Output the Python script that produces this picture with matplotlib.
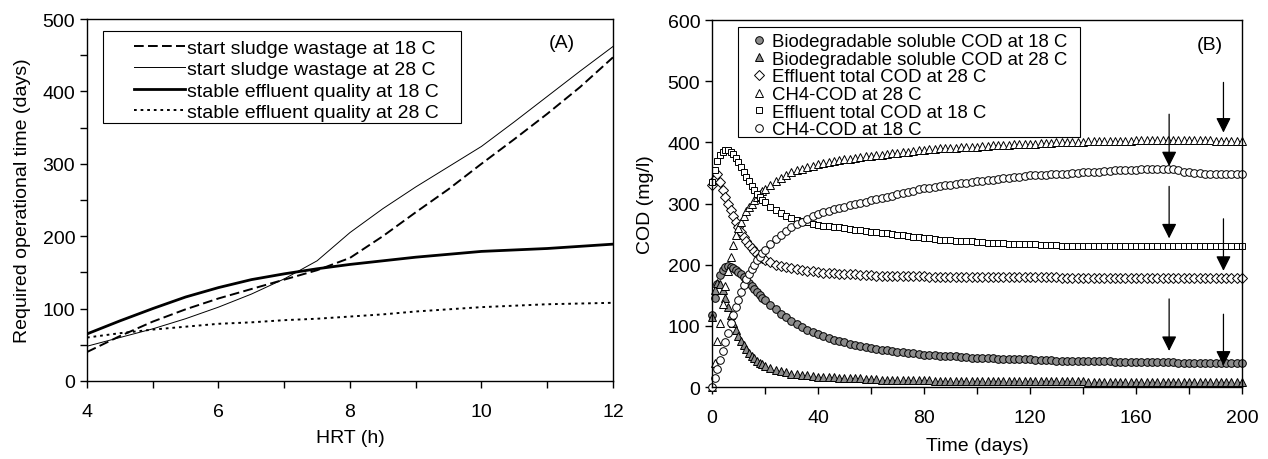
import matplotlib
matplotlib.use("Agg")
import matplotlib.pyplot as plt
from matplotlib.patches import Rectangle

plt.rcParams['font.family'] = ['Liberation Sans', 'DejaVu Sans']

# ---- panel A data ----
hrt = [4, 4.5, 5, 5.5, 6, 6.5, 7, 7.5, 8, 8.5, 9, 9.5, 10, 10.5, 11, 11.5, 12]
sludge_18 = [40, 62, 82, 99, 114, 127, 140, 153, 170, 200, 233, 265, 300, 334, 369, 406, 447]
sludge_28 = [48, 60, 72, 86, 102, 120, 141, 166, 205, 238, 268, 296, 324, 358, 393, 428, 462]
stable_18 = [65, 83, 100, 116, 129, 140, 148, 155, 161, 166, 171, 175, 179, 181, 183, 186, 189]
stable_28 = [60, 66, 71, 75, 79, 81, 84, 86, 89, 92, 96, 99, 102, 104, 106, 107, 108]

# ---- panel B data ----
days = list(range(0, 21)) + list(range(22, 201, 2))
bscod_18 = [118, 145, 168, 183, 192, 197, 198, 197, 195, 192, 188, 184, 180, 175, 170, 165, 160, 155, 150, 146, 142,
            134, 127, 120, 114, 108, 103, 98, 94, 90, 86,
            83, 80, 77, 75, 73, 71, 69, 67, 65, 64,
            62, 61, 60, 59, 58, 57, 56, 55, 54, 53,
            52, 52, 51, 51, 50, 50, 49, 49, 48, 48,
            47, 47, 47, 46, 46, 46, 45, 45, 45, 45,
            44, 44, 44, 44, 43, 43, 43, 43, 43, 42,
            42, 42, 42, 42, 42, 41, 41, 41, 41, 41,
            41, 41, 41, 41, 41, 41, 41, 40, 40, 40,
            40, 40, 40, 40, 40, 40, 40, 40, 40, 40]
bscod_28 = [115, 158, 170, 168, 158, 145, 130, 117, 104, 93, 84, 76, 69, 62, 56, 51, 47, 43, 40, 37, 35,
            31, 28, 26, 24, 22, 21, 20, 19, 18, 17,
            17, 16, 16, 15, 15, 14, 14, 14, 13, 13,
            13, 12, 12, 12, 12, 11, 11, 11, 11, 11,
            11, 10, 10, 10, 10, 10, 10, 10, 10, 10,
            10, 10, 10, 10, 10, 10, 10, 10, 10, 10,
            10, 10, 10, 10, 10, 10, 10, 10, 10, 10,
            9, 9, 9, 9, 9, 9, 9, 9, 9, 9,
            9, 9, 9, 9, 9, 9, 9, 9, 9, 9,
            8, 8, 8, 8, 8, 8, 8, 8, 8, 8]
eff_28 = [330, 340, 348, 335, 322, 310, 300, 290, 280, 270, 261, 253, 245, 238, 232, 227, 222, 218, 214, 211, 208,
          204, 200, 198, 196, 194, 193, 192, 190, 189, 188,
          187, 186, 186, 185, 185, 184, 184, 183, 183, 183,
          182, 182, 182, 182, 181, 181, 181, 181, 181, 181,
          180, 180, 180, 180, 180, 180, 180, 180, 180, 180,
          180, 180, 180, 180, 180, 180, 180, 180, 180, 180,
          180, 180, 180, 180, 180, 179, 179, 179, 179, 179,
          179, 179, 179, 179, 179, 179, 179, 179, 179, 179,
          179, 179, 179, 179, 179, 179, 179, 179, 179, 179,
          179, 179, 179, 179, 179, 179, 179, 179, 179, 179]
ch4_28 = [0, 40, 75, 105, 135, 165, 190, 212, 232, 248, 260, 270, 279, 287, 294, 300, 306, 311, 316, 320, 324,
          331, 337, 342, 347, 351, 354, 357, 360, 362, 364,
          366, 368, 369, 371, 372, 373, 374, 376, 377, 378,
          379, 380, 381, 382, 383, 384, 385, 386, 387, 388,
          389, 389, 390, 390, 391, 391, 392, 392, 393, 393,
          394, 394, 395, 395, 396, 396, 397, 397, 398, 398,
          398, 399, 399, 399, 400, 400, 400, 401, 401, 401,
          402, 402, 402, 402, 403, 403, 403, 403, 403, 404,
          404, 404, 404, 404, 404, 404, 404, 404, 404, 404,
          404, 404, 404, 404, 403, 403, 403, 403, 403, 403]
eff_18 = [335, 355, 370, 380, 385, 387, 387, 385, 381, 375, 368, 360, 352, 344, 336, 329, 322, 316, 311, 306, 302,
          295, 289, 284, 280, 276, 273, 271, 269, 267, 265,
          264, 263, 262, 261, 260, 258, 257, 256, 255, 254,
          253, 252, 251, 250, 249, 248, 247, 246, 245, 244,
          243, 242, 241, 241, 240, 239, 239, 238, 238, 237,
          237, 236, 236, 235, 235, 234, 234, 234, 233, 233,
          233, 232, 232, 232, 232, 231, 231, 231, 231, 231,
          231, 231, 231, 231, 231, 231, 231, 231, 231, 231,
          230, 230, 230, 230, 230, 230, 230, 230, 230, 230,
          230, 230, 230, 230, 230, 230, 230, 230, 230, 230]
ch4_18 = [0, 14, 29, 44, 59, 74, 89, 104, 118, 131, 143, 155, 166, 176, 185, 193, 200, 207, 213, 219, 224,
          233, 242, 249, 255, 261, 266, 270, 274, 279, 283,
          286, 288, 291, 293, 295, 297, 299, 301, 303, 305,
          307, 309, 311, 313, 315, 317, 319, 321, 323, 325,
          326, 327, 328, 330, 331, 332, 333, 334, 335, 336,
          337, 338, 339, 340, 341, 342, 343, 344, 345, 346,
          346, 347, 347, 348, 348, 349, 349, 350, 350, 351,
          351, 352, 352, 353, 353, 354, 354, 355, 355, 355,
          356, 356, 356, 357, 357, 357, 356, 354, 352, 351,
          350, 350, 349, 349, 349, 348, 348, 348, 348, 348]

# arrows marking the change points (x, start value, tip value)
arrow_x = [193, 172.5, 172.5, 193, 172.5, 193]
arrow_top = [498, 446, 328, 275, 144, 119]
arrow_tip = [416, 361, 243, 190, 59, 35]

FS = 14

fig = plt.figure(figsize=(12.68, 4.6), dpi=100)
ax1 = fig.add_axes([0.0686, 0.1696, 0.4148, 0.7869])
ax2 = fig.add_axes([0.5615, 0.1565, 0.4180, 0.7978])

# ---------------- panel A ----------------
ax1.plot(hrt, sludge_18, color='black', lw=1.4, dashes=(5, 2.2), label='start sludge wastage at 18 C')
ax1.plot(hrt, sludge_28, color='black', lw=0.7, label='start sludge wastage at 28 C')
ax1.plot(hrt, stable_18, color='black', lw=2.0, label='stable effluent quality at 18 C')
ax1.plot(hrt, stable_28, color='black', lw=1.4, dashes=(1.4, 2.0), label='stable effluent quality at 28 C')

ax1.set_xlim(4, 12)
ax1.set_ylim(0, 500)
ax1.set_xticks([4, 6, 8, 10, 12])
ax1.set_xticks([5, 7, 9, 11], minor=True)
ax1.set_yticks([0, 100, 200, 300, 400, 500])
ax1.set_yticks([50, 150, 250, 350, 450], minor=True)
ax1.text(0.902, 0.936, '(A)', transform=ax1.transAxes, fontsize=FS, ha='center', va='center')
ax1.set_xlabel('HRT (h)', fontsize=FS, labelpad=6)
ax1.set_ylabel('Required operational time (days)', fontsize=FS, labelpad=8)

ax1.legend(loc='upper left', bbox_to_anchor=(0.0894, 0.944), frameon=False,
           fontsize=FS, handlelength=2.6, handletextpad=0.12,
           labelspacing=0.19, borderpad=0, borderaxespad=0)
ax1.add_patch(Rectangle((0.0298, 0.712), 0.6806, 0.254, transform=ax1.transAxes,
                        fill=False, edgecolor='black', lw=0.8, zorder=5))

# ---------------- panel B ----------------
grey = '#8c8c8c'
mk = dict(linestyle='none', markeredgecolor='black', markeredgewidth=0.7, clip_on=False)
ax2.plot(days, bscod_18, marker='o', ms=5.5, markerfacecolor=grey,
         label='Biodegradable soluble COD at 18 C', **mk)
ax2.plot(days, bscod_28, marker='^', ms=5.5, markerfacecolor=grey,
         label='Biodegradable soluble COD at 28 C', **mk)
ax2.plot(days, eff_28, marker='D', ms=4.8, markerfacecolor='white',
         label='Effluent total COD at 28 C', **mk)
ax2.plot(days, ch4_28, marker='^', ms=5.5, markerfacecolor='white',
         label='CH4-COD at 28 C', **mk)
ax2.plot(days, eff_18, marker='s', ms=5.0, markerfacecolor='white',
         label='Effluent total COD at 18 C', **mk)
ax2.plot(days, ch4_18, marker='o', ms=5.5, markerfacecolor='white',
         label='CH4-COD at 18 C', **mk)

for x, y0, y1 in zip(arrow_x, arrow_top, arrow_tip):
    ax2.annotate('', xy=(x, y1), xytext=(x, y0),
                 arrowprops=dict(arrowstyle='-|>,head_length=0.9,head_width=0.45',
                                 color='black', lw=0.9, mutation_scale=10,
                                 shrinkA=0, shrinkB=0))

ax2.set_xlim(0, 200)
ax2.set_ylim(0, 600)
ax2.set_xticks([0, 40, 80, 120, 160, 200])
ax2.set_xticks([20, 60, 100, 140, 180], minor=True)
ax2.set_yticks([0, 100, 200, 300, 400, 500, 600])
ax2.text(0.939, 0.934, '(B)', transform=ax2.transAxes, fontsize=FS, ha='center', va='center')
ax2.set_xlabel('Time (days)', fontsize=FS, labelpad=8)
ax2.set_ylabel('COD (mg/l)', fontsize=FS, labelpad=10)

ax2.legend(loc='upper left', bbox_to_anchor=(0.0747, 0.964), frameon=False,
           fontsize=13.4, handlelength=0.8, handletextpad=0.3, numpoints=1,
           labelspacing=0.03, borderpad=0, borderaxespad=0)
ax2.add_patch(Rectangle((0.0485, 0.682), 0.6455, 0.300, transform=ax2.transAxes,
                        fill=False, edgecolor='black', lw=0.8, zorder=5))

for ax in (ax1, ax2):
    ax.tick_params(which='both', direction='out', length=5, width=1, labelsize=FS)
    ax.tick_params(axis='x', which='both', pad=11)
    ax.tick_params(axis='y', which='both', pad=3.5)
    for s in ax.spines.values():
        s.set_linewidth(1.0)

fig.savefig('out.png', dpi=100)
